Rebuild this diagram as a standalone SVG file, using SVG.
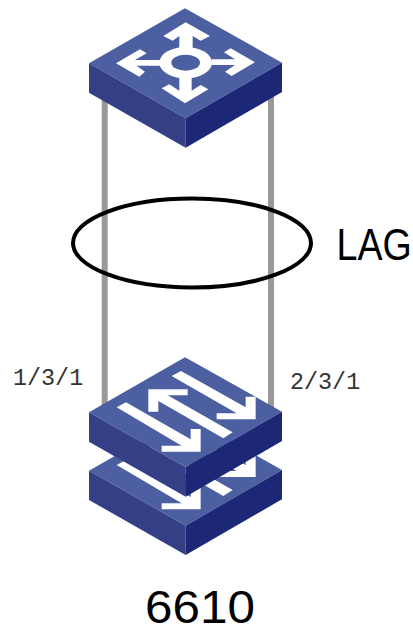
<svg xmlns="http://www.w3.org/2000/svg" xmlns:xlink="http://www.w3.org/1999/xlink" width="413" height="625" viewBox="0 0 413 625">
<style>
.top{fill:#4b5fa1}.left{fill:#343f86}.right{fill:#1c2775}.w{fill:#fff}
.link{stroke:#999;stroke-width:6;fill:none}
.port{font-family:"Liberation Mono",monospace;font-size:23.4px;fill:#333}
.big{font-family:"Liberation Sans",sans-serif;fill:#000}
</style>
<defs>
<g id="box">
<polygon class="top" points="315,25 606,188 317,355 27,190"/>
<polygon class="left" points="27,190 317,355 317,443 27,278"/>
<polygon class="right" points="606,188 317,355 317,443 606,276"/>
</g>
<g id="swArrows">
<polygon class="w" points="275,78 303,63 497,172 497,140 527,140 527,208 410,208 410,190 470,190"/>
<polygon class="w" points="205,118 323,118 323,136 263,136 458,247 430,265 235,153 235,185 205,185"/>
<polygon class="w" points="110,172 138,157 332,268 332,237 362,237 362,305 245,305 245,287 305,287"/>
</g>
</defs>
<g id="connectors">
<line class="link" x1="104.700" y1="95" x2="104.700" y2="410"/>
<line class="link" x1="271" y1="95" x2="271" y2="410"/>
</g>
<g id="core-switch" transform="translate(80,0) scale(.3333)">
<use xlink:href="#box" href="#box"/>
<polygon class="w" points="317,67 390,108 362,122 338,108 338,150 298,150 298,108 278,122 250,108"/>
<polygon class="w" points="108,190 180,148 200,160 165,180 240,180 240,197 170,197 195,215 178,230"/>
<polygon class="w" points="525,187 452,145 432,157 465,178 395,178 395,195 465,195 435,215 455,228"/>
<polygon class="w" points="315,310 245,265 268,253 298,272 298,230 335,230 335,272 362,255 385,268"/>
<ellipse class="w" cx="317" cy="188" rx="79" ry="47"/>
<ellipse class="top" cx="317" cy="188" rx="43" ry="24"/>
</g>
<g id="switch-lower" transform="translate(80,350) scale(.3333)">
<use xlink:href="#box" href="#box" y="172"/>
<use xlink:href="#swArrows" href="#swArrows" y="173"/>
</g>
<g id="switch-upper" transform="translate(80,350) scale(.3333)">
<use xlink:href="#box" href="#box" y="-3"/>
<use xlink:href="#swArrows" href="#swArrows"/>
</g>
<g id="lag">
<ellipse cx="192" cy="243" rx="119" ry="44.500" fill="none" stroke="#000" stroke-width="4"/>
<text class="big" transform="translate(336.500,260) scale(.855,1)" font-size="44">LAG</text>
</g>
<text class="port" x="13" y="385">1/3/1</text>
<text class="port" x="290" y="389">2/3/1</text>
<text class="big" transform="translate(145,623) scale(1.075,1)" font-size="46">6610</text>
</svg>
